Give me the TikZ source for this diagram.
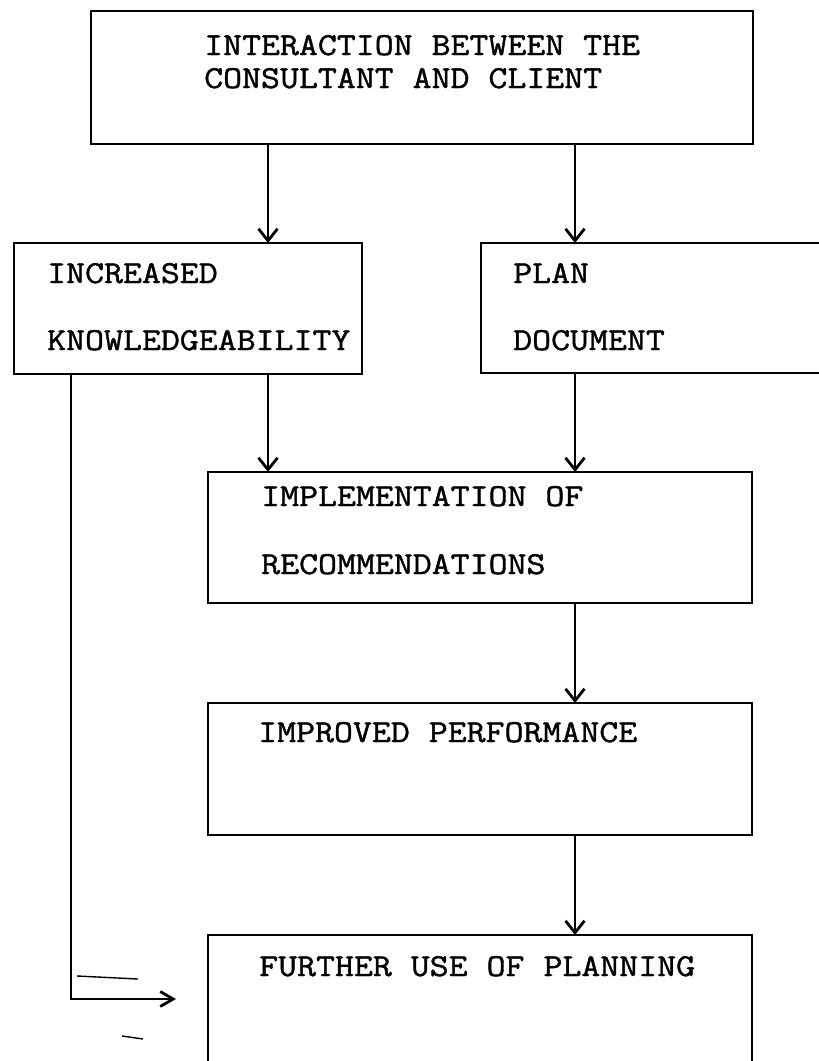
\documentclass[tikz,border=0pt]{standalone}
\usepackage{fontspec}
\setmonofont{Latin Modern Mono}[FakeStretch=1.15, FakeBold=1.3]
\usetikzlibrary{arrows.meta}
\begin{document}
\begin{tikzpicture}[x=1pt,y=-1pt,
  box/.style={draw, line width=2.8pt, inner sep=0pt, outer sep=0pt},
  label/.style={anchor=base west, inner sep=0pt, font=\fontsize{32}{34}\selectfont\ttfamily},
  flow/.style={line width=2.3pt, -{Straight Barb[length=12pt,width=19pt,line width=2.8pt]}},
  back/.style={line width=2.6pt, -{Straight Barb[length=13pt,width=15pt,line width=2.8pt]}},
  speck/.style={line width=1.4pt}]
\useasboundingbox (0,0) rectangle (819,1061);

% boxes (the right-hand plan box and the last box run off the page)
\node[box, minimum width=662pt, minimum height=133pt] (inter) at (422,77.5) {};
\node[box, minimum width=348pt, minimum height=131pt] (know)  at (188,308.5) {};
\node[box, minimum width=379pt, minimum height=130pt] (plan)  at (670.5,308) {};
\node[box, minimum width=544pt, minimum height=131pt] (impl)  at (480,537.5) {};
\node[box, minimum width=544pt, minimum height=132pt] (perf)  at (480,769) {};
\node[box, minimum width=544pt, minimum height=170pt] (further) at (480,1020) {};

% labels
\node[label] (l1a) at (204,55)  {INTERACTION BETWEEN THE};
\node[label] (l1b) at (204,88)  {CONSULTANT AND CLIENT};
\node[label] (l2a) at (47,283)  {INCREASED};
\node[label] (l2b) at (47,350)  {KNOWLEDGEABILITY};
\node[label] (l3a) at (513,283) {PLAN};
\node[label] (l3b) at (513,350) {DOCUMENT};
\node[label] (l4a) at (261,506) {IMPLEMENTATION OF};
\node[label] (l4b) at (261,574) {RECOMMENDATIONS};
\node[label] (l5)  at (258,742) {IMPROVED PERFORMANCE};
\node[label] (l6)  at (259,976) {FURTHER USE OF PLANNING};

% connector columns
\coordinate (colA) at (268,0);
\coordinate (colB) at (575,0);
\coordinate (colL) at (71,0);
\coordinate (turn) at (71,999);
\coordinate (tip)  at (176,999);

\draw[flow] (inter.south -| colA) -- (know.north -| colA);
\draw[flow] (inter.south -| colB) -- (plan.north -| colB);
\draw[flow] (know.south -| colA) -- (impl.north -| colA);
\draw[flow] (plan.south -| colB) -- (impl.north -| colB);
\draw[flow] (impl.south -| colB) -- (perf.north -| colB);
\draw[flow] (perf.south -| colB) -- (further.north -| colB);
\draw[back] (know.south -| colL) -- (turn) -- (tip);

% stray pen strokes beside the return line
\draw[speck] (77,976) -- (138,979);
\draw[speck] (122,1036) -- (143,1039);
\end{tikzpicture}
\end{document}
